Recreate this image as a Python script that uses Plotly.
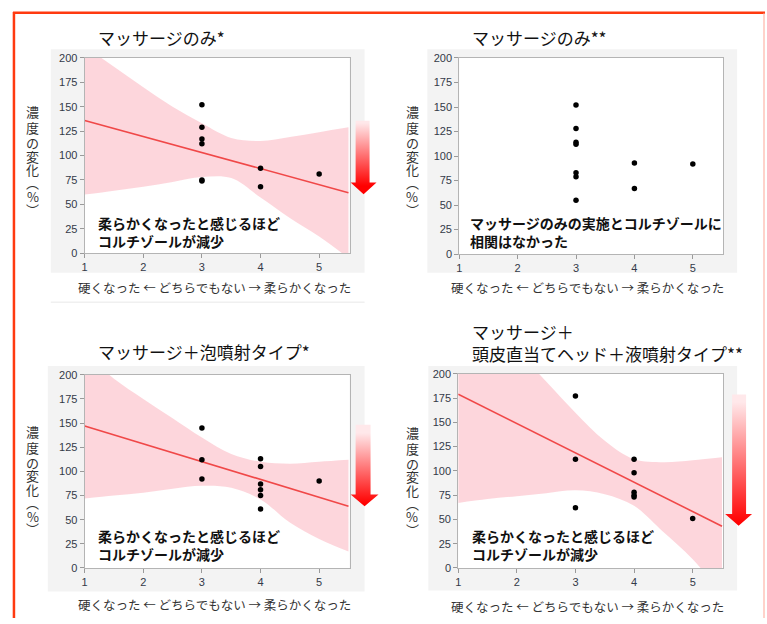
import plotly.graph_objects as go

W, H = 767, 624
JP = "Noto Sans CJK JP"

# ---------------- data ----------------
titles = ["マッサージのみ*", "マッサージのみ**", "マッサージ＋泡噴射タイプ*",
          "マッサージ＋<br>頭皮直当てヘッド＋液噴射タイプ**"]
notes = ["柔らかくなったと感じるほど<br>コルチゾールが減少",
         "マッサージのみの実施とコルチゾールに<br>相関はなかった",
         "柔らかくなったと感じるほど<br>コルチゾールが減少",
         "柔らかくなったと感じるほど<br>コルチゾールが減少"]
x_title = "硬くなった ← どちらでもない → 柔らかくなった"
y_title_chars = ["濃", "度", "の", "変", "化", "︵", "%", "︶"]
x_ticks = [1, 2, 3, 4, 5]
y_ticks = [0, 25, 50, 75, 100, 125, 150, 175, 200]

p1_x = [3, 3, 3, 3, 3, 3, 4, 4, 5]
p1_y = [152, 129, 117, 112, 75, 74, 87, 68, 81]
p2_x = [3, 3, 3, 3, 3, 3, 3, 4, 4, 5]
p2_y = [152, 128, 114, 112, 83, 79, 55, 93, 67, 92]
p3_x = [3, 3, 3, 4, 4, 4, 4, 4, 4, 5]
p3_y = [145, 112, 92, 113, 105, 87, 81, 75, 61, 90]
p4_x = [3, 3, 3, 4, 4, 4, 4, 4, 5]
p4_y = [177, 112, 62, 112, 98, 78, 75, 73, 51]

fit_x = [1, 5.5]
p1_fit = [136, 62]
p3_fit = [147, 64]
p4_fit = [179, 43]

band_x = [1, 1.5, 2, 2.5, 3, 3.5, 4, 4.5, 5, 5.5]
p1_upper = [212, 191, 170, 150, 133, 118, 115, 119, 124, 129]
p1_lower = [60, 64, 68, 73, 78, 77, 57, 36, 17, -5]
p3_upper = [222, 196, 175, 155, 135, 118, 110, 108, 110, 112]
p3_lower = [72, 75, 78, 82, 85, 83, 71, 47, 30, 17]
p4_upper = [291, 258, 225, 192, 160, 131, 112, 109, 111, 114]
p4_lower = [67, 71, 74, 77, 80, 76, 64, 37, 9, -27]

series = [
    dict(x=p1_x, y=p1_y, fit=p1_fit, up=p1_upper, lo=p1_lower),
    dict(x=p2_x, y=p2_y, fit=None, up=None, lo=None),
    dict(x=p3_x, y=p3_y, fit=p3_fit, up=p3_upper, lo=p3_lower),
    dict(x=p4_x, y=p4_y, fit=p4_fit, up=p4_upper, lo=p4_lower),
]

# ---------------- layout geometry (pixels) ----------------
panels = [
    dict(x0=82, x1=348, y0=53, y1=252, bg=(48, 44, 363, 272),
         title=(93, 32), note=(93, 230), ytx=30, yty=0, xt=(212, 287),
         arrow=(354, 368, 117, 180, 349, 375, 192)),
    dict(x0=458, x1=723, y0=53, y1=253, bg=(426, 44, 737, 272),
         title=(469, 32), note=(467, 230), ytx=411, yty=0, xt=(587, 287),
         arrow=None),
    dict(x0=82, x1=348, y0=376, y1=573, bg=(45, 367, 363, 597),
         title=(93, 352), note=(93, 550), ytx=30, yty=326, xt=(212, 610),
         arrow=(354, 369, 427, 498, 349, 377, 510)),
    dict(x0=457, x1=723, y0=375, y1=573, bg=(427, 367, 737, 596),
         title=(469, 343), note=(469, 550), ytx=411, yty=327, xt=(587, 612),
         arrow=(732, 746, 396, 518, 725, 752, 530)),
]
char_y = [108, 124, 139, 153, 167, 180, 194, 207]


def px(x):
    return x / W


def py(y):
    return 1 - y / H


fig = go.Figure()
shapes = []
annotations = []

for i, (pn, s) in enumerate(zip(panels, series), start=1):
    xa = "x" if i == 1 else f"x{i}"
    ya = "y" if i == 1 else f"y{i}"
    # backgrounds
    bx0, by0, bx1, by1 = pn["bg"]
    shapes.append(dict(type="rect", xref="paper", yref="paper", layer="below",
                       x0=px(bx0), x1=px(bx1), y0=py(by1), y1=py(by0),
                       fillcolor="#f3f3f3", line=dict(width=0)))
    shapes.append(dict(type="rect", xref="paper", yref="paper", layer="below",
                       x0=px(pn["x0"]), x1=px(pn["x1"]), y0=py(pn["y1"]), y1=py(pn["y0"]),
                       fillcolor="white", line=dict(width=0)))
    if s["fit"] is not None:
        fig.add_trace(go.Scatter(x=band_x, y=s["lo"], mode="lines", line=dict(width=0, shape="spline"),
                                 xaxis=xa, yaxis=ya, showlegend=False, hoverinfo="skip"))
        fig.add_trace(go.Scatter(x=band_x, y=s["up"], mode="lines", line=dict(width=0, shape="spline"),
                                 fill="tonexty", fillcolor="rgba(252,200,208,0.75)",
                                 xaxis=xa, yaxis=ya, showlegend=False, hoverinfo="skip"))
        fig.add_trace(go.Scatter(x=fit_x, y=s["fit"], mode="lines", line=dict(color="#f04848", width=1.6),
                                 xaxis=xa, yaxis=ya, showlegend=False))
    fig.add_trace(go.Scatter(x=s["x"], y=s["y"], mode="markers",
                             marker=dict(color="black", size=5.5),
                             xaxis=xa, yaxis=ya, showlegend=False))

    axcommon = dict(showline=True, mirror=True, linecolor="#b4b4b4", linewidth=1,
                    ticks="outside", ticklen=4, tickcolor="#9a9a9a", showgrid=False,
                    zeroline=False, tickfont=dict(family="Liberation Sans", size=11, color="#333a48"),
                    fixedrange=True)
    fig.layout[f"xaxis{'' if i == 1 else i}"] = dict(
        domain=[px(pn["x0"]), px(pn["x1"])], range=[1, 5.52], tickvals=x_ticks,
        anchor=ya, **axcommon)
    fig.layout[f"yaxis{'' if i == 1 else i}"] = dict(
        domain=[py(pn["y1"]), py(pn["y0"])], range=[0, 200], tickvals=y_ticks,
        anchor=xa, **axcommon)

    # title
    tx, ty = pn["title"]
    annotations.append(dict(text=titles[i - 1], x=px(tx), y=py(ty), xref="paper", yref="paper",
                            xanchor="left", yanchor="middle", showarrow=False, align="left",
                            font=dict(family=JP, size=17, color="#111")))
    # note
    nx, ny = pn["note"]
    annotations.append(dict(text="<b>" + notes[i - 1] + "</b>", x=px(nx), y=py(ny), xref="paper", yref="paper",
                            xanchor="left", yanchor="middle", showarrow=False, align="left",
                            font=dict(family=JP, size=14, color="#111")))
    # x title
    xx, xy = pn["xt"]
    annotations.append(dict(text=x_title, x=px(xx), y=py(xy), xref="paper", yref="paper",
                            xanchor="center", yanchor="middle", showarrow=False,
                            font=dict(family=JP, size=12.5, color="#333")))
    # vertical y title (stacked upright characters)
    for ch, cy in zip(y_title_chars, char_y):
        annotations.append(dict(text=ch, x=px(pn["ytx"]), y=py(cy + pn["yty"]), xref="paper", yref="paper",
                                xanchor="center", yanchor="middle", showarrow=False,
                                font=dict(family=JP, size=13, color="#333")))
    # arrow
    if pn["arrow"] is not None:
        sx0, sx1, top, htop, hx0, hx1, tip = pn["arrow"]
        cx = (hx0 + hx1) / 2
        fig.add_trace(go.Scatter(
            x=[sx0, sx1, sx1, hx1, cx, hx0, sx0, sx0],
            y=[top, top, htop, htop, tip, htop, htop, top],
            mode="lines", line=dict(width=0), fill="toself",
            fillgradient=dict(type="vertical", start=top, stop=htop,
                              colorscale=[[0, "#ffe8ea"], [1, "#ff0000"]]),
            xaxis="x5", yaxis="y5", showlegend=False, hoverinfo="skip"))

# faint separator under panel 1
shapes.append(dict(type="line", xref="paper", yref="paper", x0=px(48), x1=px(363),
                   y0=py(302), y1=py(302), line=dict(color="#f0f0f0", width=1.5), layer="below"))
# frame
shapes.append(dict(type="line", xref="paper", yref="paper", x0=px(11), x1=px(11),
                   y0=py(6), y1=0, line=dict(color="#ff3a10", width=2.5)))
shapes.append(dict(type="line", xref="paper", yref="paper", x0=px(10), x1=px(765),
                   y0=py(7), y1=py(7), line=dict(color="#ff3a10", width=2.5)))
shapes.append(dict(type="line", xref="paper", yref="paper", x0=px(764), x1=px(764),
                   y0=py(7), y1=0, line=dict(color="#ffa596", width=1)))

fig.layout["xaxis5"] = dict(domain=[0, 1], range=[0, W], visible=False, fixedrange=True, anchor="y5")
fig.layout["yaxis5"] = dict(domain=[0, 1], range=[H, 0], visible=False, fixedrange=True, anchor="x5")

fig.update_layout(width=W, height=H, margin=dict(l=0, r=0, t=0, b=0),
                  paper_bgcolor="white", plot_bgcolor="rgba(0,0,0,0)",
                  shapes=shapes, annotations=annotations, showlegend=False)

fig.write_html("out.html", config={"displayModeBar": False},
               post_script="document.body.style.margin='0px';document.body.style.overflow='hidden';")
